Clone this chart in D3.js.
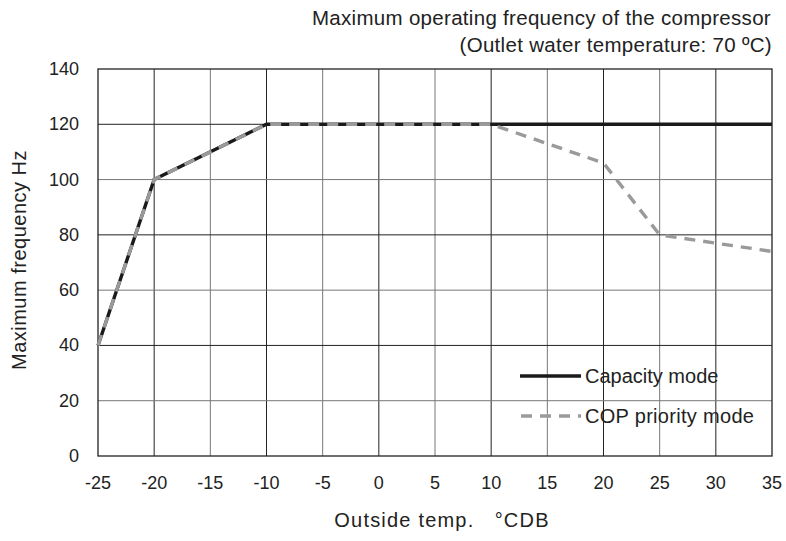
<!DOCTYPE html>
<html><head><meta charset="utf-8">
<script src="https://cdn.jsdelivr.net/npm/d3@7"></script>
<style>body{margin:0;background:#fff}svg{display:block;font-family:"Liberation Sans",Arial,sans-serif}</style>
</head><body><svg id="c" width="786" height="541"></svg>
<script>
const xTicks = [-25,-20,-15,-10,-5,0,5,10,15,20,25,30,35];
const yTicks = [0,20,40,60,80,100,120,140];
const capacityX = [-25,-20,-10,35];
const capacityY = [40,100,120,120];
const copX = [-25,-20,-10,10,20,25,35];
const copY = [40,100,120,120,106,80,74];

const svg = d3.select("#c");
const L=98, R=772, T=69, B=456;
const x = d3.scaleLinear().domain([-25,35]).range([L,R]);
const y = d3.scaleLinear().domain([0,140]).range([B,T]);
const ink = "#222";

// grid
svg.append("g").selectAll("line").data(xTicks.slice(1,-1)).join("line")
  .attr("x1",d=>x(d)).attr("x2",d=>x(d)).attr("y1",T).attr("y2",B)
  .attr("stroke",(d,i)=>i%2===0?"#222":"#777").attr("stroke-width",1);
svg.append("g").selectAll("line").data(yTicks.slice(1,-1)).join("line")
  .attr("x1",L).attr("x2",R).attr("y1",d=>y(d)).attr("y2",d=>y(d))
  .attr("stroke",(d,i)=>i%2===0?"#777":"#222").attr("stroke-width",1);
svg.append("rect").attr("x",L).attr("y",T).attr("width",R-L).attr("height",B-T)
  .attr("fill","none").attr("stroke","#222").attr("stroke-width",1.3);

// tick labels
svg.append("g").selectAll("text").data(xTicks).join("text")
  .attr("x",d=>x(d)).attr("y",489).attr("text-anchor","middle")
  .attr("font-size",18).attr("fill",ink).text(d=>d);
svg.append("g").selectAll("text").data(yTicks).join("text")
  .attr("x",79).attr("y",d=>y(d)+6).attr("text-anchor","end")
  .attr("font-size",18).attr("fill",ink).text(d=>d);

// axis titles
svg.append("text").attr("x",442).attr("y",527).attr("text-anchor","middle")
  .attr("font-size",20).attr("fill",ink).attr("letter-spacing",1.2).text("Outside temp.\u00a0\u00a0\u00a0\u00b0CDB");
svg.append("text").attr("transform","translate(26,260) rotate(-90)").attr("text-anchor","middle")
  .attr("font-size",20).attr("fill",ink).attr("letter-spacing",0.5).text("Maximum frequency Hz");
svg.append("text").attr("x",771).attr("y",25).attr("text-anchor","end")
  .attr("font-size",20.5).attr("fill",ink).attr("letter-spacing",0.3).text("Maximum operating frequency of the compressor");
svg.append("text").attr("x",772).attr("y",52).attr("text-anchor","end")
  .attr("font-size",20.5).attr("fill",ink).attr("letter-spacing",0.3).text("(Outlet water temperature: 70 \u00baC)");

// lines
const line = d3.line().x(d=>x(d[0])).y(d=>y(d[1]));
svg.append("path").datum(d3.zip(capacityX,capacityY)).attr("d",line)
  .attr("fill","none").attr("stroke","#1a1a1a").attr("stroke-width",3.4);
svg.append("path").datum(d3.zip(copX,copY)).attr("d",line)
  .attr("fill","none").attr("stroke","#9a9a9a").attr("stroke-width",3.4)
  .attr("stroke-dasharray","11,8");

// legend
svg.append("line").attr("x1",520).attr("x2",581).attr("y1",376).attr("y2",376)
  .attr("stroke","#1a1a1a").attr("stroke-width",3.4);
svg.append("line").attr("x1",521).attr("x2",581).attr("y1",416).attr("y2",416)
  .attr("stroke","#9a9a9a").attr("stroke-width",3.4).attr("stroke-dasharray","11,8");
svg.append("text").attr("x",585).attr("y",383).attr("font-size",20).attr("fill",ink).text("Capacity mode");
svg.append("text").attr("x",585).attr("y",423).attr("font-size",20).attr("fill",ink).attr("letter-spacing",0.3).text("COP priority mode");
</script></body></html>
